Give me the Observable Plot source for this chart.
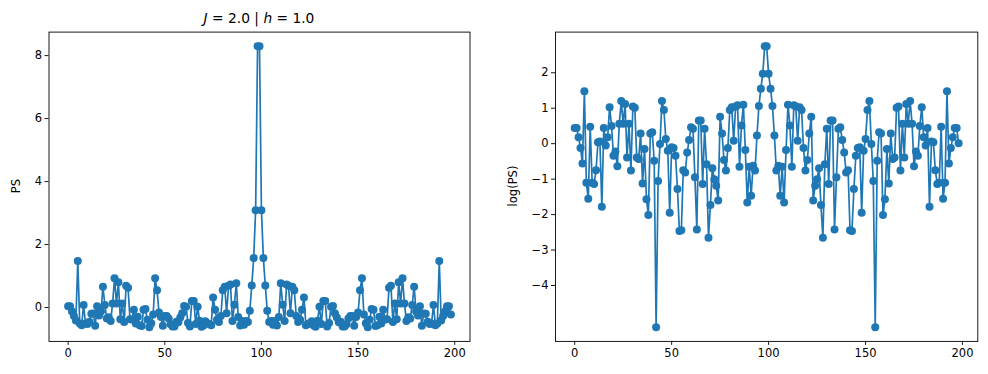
<!DOCTYPE html>
<html><head><meta charset="utf-8">
<script src="https://cdn.jsdelivr.net/npm/d3@7"></script>
<script src="https://cdn.jsdelivr.net/npm/@observablehq/plot@0.6"></script>
<style>
body{margin:0;background:#fff;}
#root{position:relative;width:988px;height:374px;font-family:"DejaVu Sans",sans-serif;color:#000;overflow:hidden;}
.panel{position:absolute;top:0;}
.ylab{position:absolute;font-size:11.5px;transform:translate(-50%,-50%) rotate(-90deg);white-space:nowrap;}
.title{position:absolute;top:10px;font-size:13.8px;transform:translateX(-50%);white-space:nowrap;}
</style></head><body><div id="root"></div>
<script>
const ps = [
 0.04, 0.04, -0.13, -0.27, -0.41, 1.48, -0.51, -0.56, 0.08, -0.51,
 -0.52, -0.45, -0.20, -0.19, -0.58, 0.04, -0.25, -0.13, 0.66, 0.08,
 -0.35, -0.31, -0.43, 0.13, 0.93, 0.13, 0.80, -0.37, 0.13, -0.46,
 0.69, 0.63, -0.37, -0.38, -0.07, -0.51, -0.29, -0.56, -0.59, -0.07,
 -0.05, -0.39, -0.63, -0.50, -0.22, 0.93, 0.55, -0.16, -0.30, -0.58,
 -0.27, -0.27, -0.35, -0.53, -0.60, -0.60, -0.45, -0.47, -0.32, -0.18,
 0.05, 0.02, -0.49, -0.60, 0.21, 0.21, -0.52, 0.02, -0.42, -0.61,
 -0.57, -0.44, -0.50, -0.52, -0.56, 0.32, -0.07, -0.39, -0.46, -0.27,
 0.55, 0.66, -0.18, 0.69, 0.73, -0.43, 0.09, 0.77, -0.30, -0.57,
 -0.43, -0.55, -0.43, -0.46, -0.10, 0.70, 1.57, 3.09, 8.30, 8.30,
 3.09, 1.57, 0.70, -0.10, -0.46, -0.43, -0.55, -0.43, -0.57, -0.30,
 0.77, 0.09, -0.43, 0.73, 0.69, -0.18, 0.66, 0.55, -0.27, -0.46,
 -0.39, -0.07, 0.32, -0.56, -0.52, -0.50, -0.44, -0.57, -0.61, -0.42,
 0.02, -0.52, 0.21, 0.21, -0.60, -0.49, 0.02, 0.05, -0.18, -0.32,
 -0.47, -0.45, -0.60, -0.60, -0.53, -0.35, -0.27, -0.27, -0.58, -0.30,
 -0.16, 0.55, 0.93, -0.22, -0.50, -0.63, -0.39, -0.05, -0.07, -0.59,
 -0.56, -0.29, -0.51, -0.07, -0.38, -0.37, 0.63, 0.69, -0.46, 0.13,
 -0.37, 0.80, 0.13, 0.93, 0.13, -0.43, -0.31, -0.35, 0.08, 0.66,
 -0.13, -0.25, 0.04, -0.58, -0.19, -0.20, -0.45, -0.52, -0.51, 0.08,
 -0.56, -0.51, 1.48, -0.41, -0.27, -0.13, 0.04, 0.04, -0.22
];
const logps = [
 0.44, 0.44, 0.18, -0.12, -0.56, 1.48, -1.10, -1.55, 0.48, -1.10,
 -1.14, -0.75, 0.04, 0.06, -1.78, 0.44, -0.05, 0.18, 1.03, 0.50,
 -0.34, -0.22, -0.64, 0.56, 1.20, 0.56, 1.12, -0.39, 0.56, -0.76,
 1.05, 1.01, -0.39, -0.43, 0.29, -1.12, -0.15, -1.57, -2.01, 0.29,
 0.32, -0.48, -5.18, -1.05, -0.01, 1.20, 0.95, 0.13, -0.20, -1.95,
 -0.10, -0.12, -0.34, -1.28, -2.46, -2.44, -0.75, -0.81, -0.25, 0.10,
 0.46, 0.42, -0.95, -2.42, 0.65, 0.65, -1.14, 0.42, -0.58, -2.65,
 -1.73, -0.69, -1.00, -1.19, -1.60, 0.76, 0.29, -0.46, -0.76, -0.12,
 0.95, 1.03, 0.08, 1.05, 1.08, -0.65, 0.51, 1.10, -0.18, -1.66,
 -0.65, -1.47, -0.62, -0.76, 0.23, 1.06, 1.55, 1.97, 2.75, 2.75,
 1.97, 1.55, 1.06, 0.23, -0.76, -0.62, -1.47, -0.65, -1.66, -0.18,
 1.10, 0.51, -0.65, 1.08, 1.05, 0.08, 1.03, 0.95, -0.12, -0.76,
 -0.46, 0.29, 0.76, -1.60, -1.19, -1.00, -0.69, -1.73, -2.65, -0.58,
 0.42, -1.14, 0.65, 0.65, -2.42, -0.95, 0.42, 0.46, 0.10, -0.25,
 -0.81, -0.75, -2.44, -2.46, -1.28, -0.34, -0.12, -0.10, -1.95, -0.20,
 0.13, 0.95, 1.20, -0.01, -1.05, -5.18, -0.48, 0.32, 0.29, -2.01,
 -1.57, -0.15, -1.12, 0.29, -0.43, -0.39, 1.01, 1.05, -0.76, 0.56,
 -0.39, 1.12, 0.56, 1.20, 0.56, -0.64, -0.22, -0.34, 0.50, 1.03,
 0.18, -0.05, 0.44, -1.78, 0.06, 0.04, -0.75, -1.14, -1.10, 0.48,
 -1.55, -1.10, 1.48, -0.56, -0.12, 0.18, 0.44, 0.44, 0.01
];
const xTicks = [0, 50, 100, 150, 200];
const psTicks = [0, 2, 4, 6, 8];
const logTicks = [-4, -3, -2, -1, 0, 1, 2];
const color = "#1f77b4";

function pad(ext) { const s = ext[1] - ext[0]; return [ext[0] - 0.05 * s, ext[1] + 0.05 * s]; }

function panel(values, yTicks, o) {
  const n = values.length;
  return Plot.plot({
    width: o.width, height: 374,
    marginLeft: o.ml, marginRight: o.mr, marginTop: 31.6, marginBottom: 33.1,
    style: {fontFamily: "DejaVu Sans", fontSize: "11.5px", color: "black", background: "transparent", overflow: "visible"},
    x: {domain: pad([0, n - 1])},
    y: {domain: pad(d3.extent(values))},
    marks: [
      Plot.axisX({ticks: xTicks, tickSize: 4, tickPadding: 3, label: null, strokeWidth: 0.9, tickFormat: d3.format("d")}),
      Plot.axisY({ticks: yTicks, tickSize: 4, tickPadding: 3, label: null, strokeWidth: 0.9, tickFormat: d3.format("d")}),
      Plot.line(values, {x: (d, i) => i, y: d => d, stroke: color, strokeWidth: 1.7}),
      Plot.dot(values, {x: (d, i) => i, y: d => d, r: 4, fill: color, stroke: "none"}),
      Plot.frame({stroke: "black", strokeWidth: 0.9})
    ]
  });
}

const root = document.getElementById("root");
const left = panel(ps, psTicks, {width: 475, ml: 48.5, mr: 5.5});
left.classList.add("panel"); left.style.left = "0px";
root.appendChild(left);
const right = panel(logps, logTicks, {width: 494, ml: 61, mr: 10.7});
right.classList.add("panel"); right.style.left = "494px";
root.appendChild(right);

const t = document.createElement("div");
t.className = "title"; t.style.left = "259px";
t.innerHTML = "<i>J</i> = 2.0 | <i>h</i> = 1.0";
root.appendChild(t);

const l1 = document.createElement("div");
l1.className = "ylab"; l1.style.left = "16px"; l1.style.top = "186px"; l1.textContent = "PS";
root.appendChild(l1);
const l2 = document.createElement("div");
l2.className = "ylab"; l2.style.left = "513px"; l2.style.top = "186px"; l2.textContent = "log(PS)";
root.appendChild(l2);
</script></body></html>
